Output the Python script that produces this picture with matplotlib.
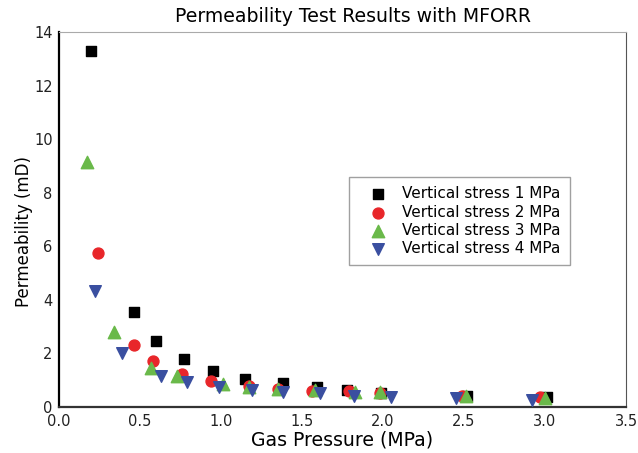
import matplotlib.pyplot as plt

# gas pressure (MPa) and permeability (mD) for each vertical stress
p_1mpa = [0.20, 0.46, 0.60, 0.77, 0.95, 1.15, 1.38, 1.59, 1.78, 1.99, 2.52, 3.01]
k_1mpa = [13.3, 3.54, 2.46, 1.79, 1.34, 1.04, 0.90, 0.75, 0.63, 0.52, 0.41, 0.37]

p_2mpa = [0.24, 0.46, 0.58, 0.76, 0.94, 1.17, 1.35, 1.56, 1.79, 1.98, 2.49, 2.97]
k_2mpa = [5.74, 2.31, 1.72, 1.23, 0.97, 0.78, 0.67, 0.60, 0.60, 0.52, 0.41, 0.37]

p_3mpa = [0.17, 0.34, 0.57, 0.73, 1.01, 1.17, 1.35, 1.58, 1.83, 1.98, 2.51, 3.00]
k_3mpa = [9.14, 2.80, 1.46, 1.16, 0.86, 0.75, 0.67, 0.63, 0.56, 0.55, 0.41, 0.34]

p_4mpa = [0.22, 0.39, 0.63, 0.79, 0.99, 1.19, 1.38, 1.61, 1.82, 2.05, 2.45, 2.92]
k_4mpa = [4.33, 2.00, 1.16, 0.92, 0.74, 0.63, 0.57, 0.51, 0.41, 0.37, 0.33, 0.27]

labels = ["Vertical stress 1 MPa", "Vertical stress 2 MPa",
          "Vertical stress 3 MPa", "Vertical stress 4 MPa"]

plt.rcParams['font.family'] = ['DejaVu Sans']

fig = plt.figure(figsize=(6.38, 4.53), dpi=100)
ax = fig.add_axes([59 / 638, 1 - 407 / 453, 567 / 638, 375 / 453])

ax.scatter(p_1mpa, k_1mpa, marker="s", s=48, color="black", label=labels[0], zorder=3)
ax.scatter(p_2mpa, k_2mpa, marker="o", s=62, color="#e8262a", label=labels[1], zorder=3)
ax.scatter(p_3mpa, k_3mpa, marker="^", s=80, color="#6ab94a", label=labels[2], zorder=3)
ax.scatter(p_4mpa, k_4mpa, marker="v", s=70, color="#3a4fa0", label=labels[3], zorder=3)

ax.set_xlim(0, 3.5)
ax.set_ylim(0, 14)
ax.set_xticks([0.0, 0.5, 1.0, 1.5, 2.0, 2.5, 3.0, 3.5])
ax.set_yticks([0, 2, 4, 6, 8, 10, 12, 14])
ax.tick_params(length=0, labelsize=10.5, colors="#222222")
ax.tick_params(axis="x", pad=5.3)
ax.tick_params(axis="y", pad=4.5)

ax.spines["left"].set_linewidth(1.6)
ax.spines["bottom"].set_linewidth(1.6)
ax.spines["bottom"].set_color("#333333")
ax.spines["top"].set_color("#aaaaaa")
ax.spines["right"].set_color("#555555")

ax.set_title("Permeability Test Results with MFORR", fontsize=13.6, x=0.518, pad=7)
ax.set_xlabel("Gas Pressure (MPa)", fontsize=13.6)
ax.set_ylabel("Permeability (mD)", fontsize=12)
ax.xaxis.set_label_coords(0.5, -0.062)
ax.yaxis.set_label_coords(-0.046, 0.467)

leg = ax.legend(loc="upper left", bbox_to_anchor=(290 / 567, 230 / 375),
                fontsize=11, frameon=True, fancybox=False,
                handlelength=2.6, handletextpad=0.25,
                labelspacing=0.2, borderpad=0.62, borderaxespad=0)
leg.get_frame().set_edgecolor("#888888")
leg.get_frame().set_linewidth(1.0)

fig.savefig("out.png", dpi=100)
